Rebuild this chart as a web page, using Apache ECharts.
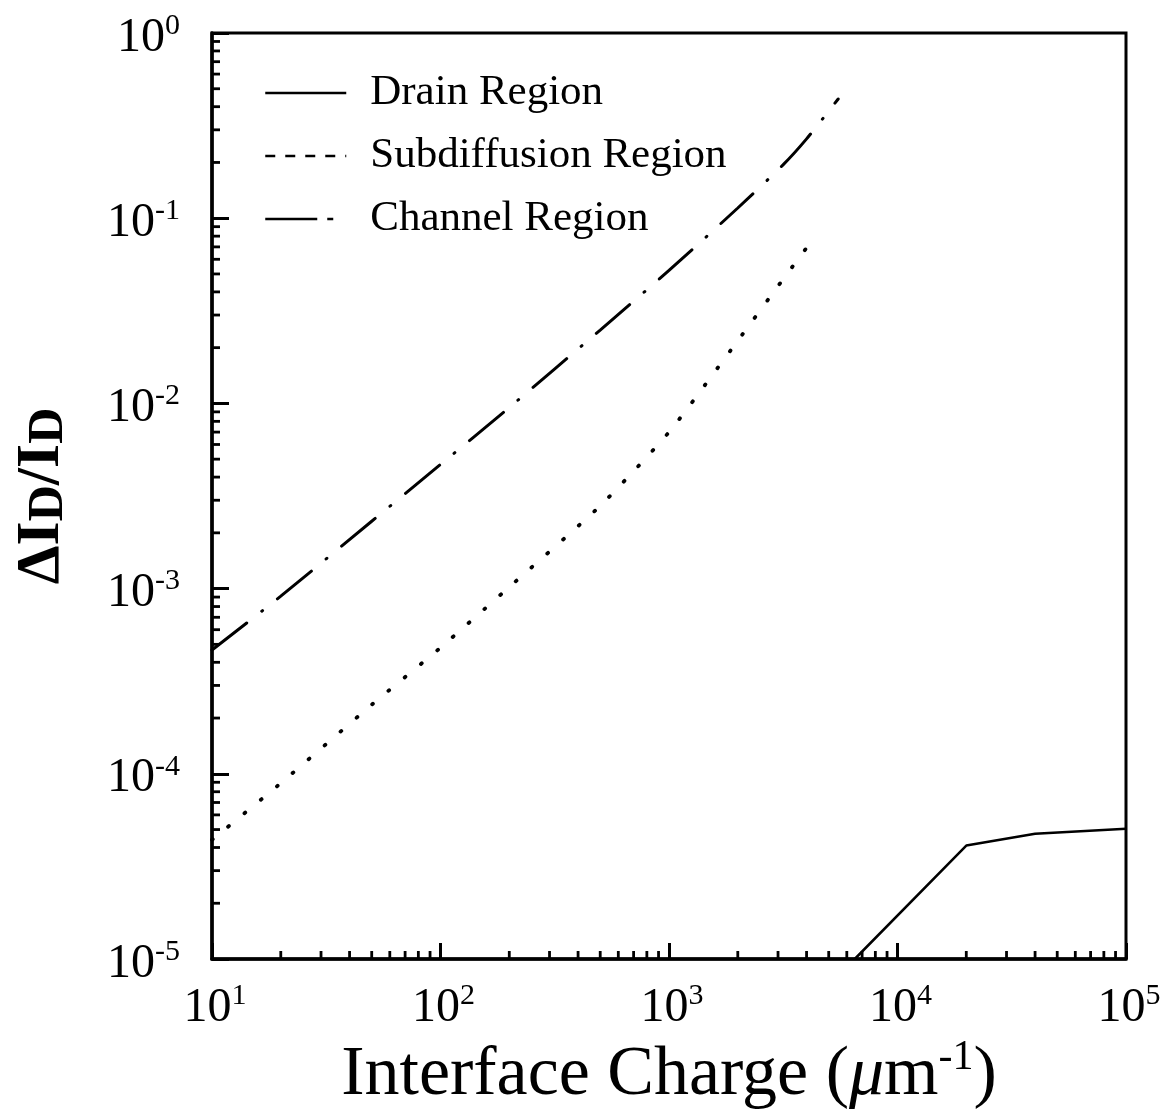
<!DOCTYPE html>
<html><head><meta charset="utf-8">
<script src="https://cdn.jsdelivr.net/npm/echarts/dist/echarts.min.js"></script>
<style>html,body{margin:0;padding:0;background:#fff}#c{width:1162px;height:1120px}</style>
</head><body><div id="c"></div>
<script>
// ---- data ----
const drainX = [6500, 20000, 40000, 100000];
const drainY = [1.0e-5, 4.1e-5, 4.75e-5, 5.05e-5];

const subX = [10, 20, 50, 100, 200, 500, 1000, 2000, 3000, 4400];
const subY = [4.4e-5, 8.9e-5, 2.36e-4, 4.8e-4, 1.02e-3, 2.8e-3, 7.0e-3, 0.0218, 0.043, 0.081];

const chX = [10, 20, 50, 100, 200, 500, 1000, 2000, 3155, 4000, 5500];
const chY = [4.66e-4, 9.1e-4, 2.31e-3, 4.68e-3, 9.5e-3, 0.0249, 0.0522, 0.1135, 0.194, 0.268, 0.44];

const seriesNames = ['Drain Region', 'Subdiffusion Region', 'Channel Region'];

// minor tick values
const xMinorTicks = [20,30,40,50,60,70,80,90, 200,300,400,500,600,700,800,900,
  2000,3000,4000,5000,6000,7000,8000,9000, 20000,30000,40000,50000,60000,70000,80000,90000];
const yMinorTicks = [2e-5,3e-5,4e-5,5e-5,6e-5,7e-5,8e-5,9e-5, 2e-4,3e-4,4e-4,5e-4,6e-4,7e-4,8e-4,9e-4,
  2e-3,3e-3,4e-3,5e-3,6e-3,7e-3,8e-3,9e-3, 2e-2,3e-2,4e-2,5e-2,6e-2,7e-2,8e-2,9e-2,
  0.2,0.3,0.4,0.5,0.6,0.7,0.8,0.9];

const X_MIN = 10, X_MAX = 1e5, Y_MIN = 1e-5, Y_MAX = 1;

const F = '"Liberation Serif", "Times New Roman", serif';
const zip = (xs, ys) => xs.map((x, i) => [x, ys[i]]);
const powLabel = v => '{b|10}{s|' + Math.round(Math.log10(v)) + '}';
const hidden = { opacity: 0 };

const chart = echarts.init(document.getElementById('c'));
chart.setOption({
  animation: false,
  backgroundColor: '#fff',
  color: ['#000', '#000', '#000'],
  grid: { left: 212, top: 33, right: 36, bottom: 161, containLabel: false, outerBoundsMode: 'none',
          show: true, borderColor: '#000', borderWidth: 3, backgroundColor: 'transparent' },
  legend: {
    orient: 'vertical', left: 259, top: 66, itemWidth: 81, itemHeight: 14, itemGap: 19,
    selectedMode: false,
    itemStyle: hidden,
    textStyle: { fontFamily: F, fontSize: 43, color: '#000', lineHeight: 44, padding: [0, 0, 0, 19] },
    data: [
      { name: seriesNames[0], itemStyle: hidden, lineStyle: { type: 'solid', width: 2.5, color: '#000' } },
      { name: seriesNames[1], itemStyle: hidden, lineStyle: { type: [10, 10], width: 2.5, color: '#000', cap: 'butt' } },
      { name: seriesNames[2], itemStyle: hidden, lineStyle: { type: [52, 10, 6, 200], width: 2.5, color: '#000', cap: 'butt' } }
    ]
  },
  xAxis: {
    type: 'log', logBase: 10, min: X_MIN, max: X_MAX,
    axisLine: { lineStyle: { color: '#000', width: 3.5 } },
    axisTick: { inside: true, length: 16, lineStyle: { color: '#000', width: 3 } },
    splitLine: { show: false },
    axisLabel: {
      margin: 22, color: '#000', formatter: powLabel, padding: [0, 0, 0, 6],
      rich: {
        b: { fontFamily: F, fontSize: 48, lineHeight: 54, color: '#000' },
        s: { fontFamily: F, fontSize: 30, lineHeight: 28, verticalAlign: 'top', color: '#000' }
      }
    },
    name: '{t|Interface Charge (}{m|μ}{t|m}{p|-1}{t|)}',
    nameLocation: 'middle', nameGap: 70,
    nameTextStyle: {
      rich: {
        t: { fontFamily: F, fontSize: 70, lineHeight: 78, color: '#000' },
        m: { fontFamily: F, fontSize: 70, lineHeight: 78, fontStyle: 'italic', color: '#000' },
        p: { fontFamily: F, fontSize: 42, lineHeight: 46, verticalAlign: 'top', color: '#000' }
      }
    }
  },
  yAxis: {
    type: 'log', logBase: 10, min: Y_MIN, max: Y_MAX,
    axisLine: { lineStyle: { color: '#000', width: 3.5 } },
    axisTick: { inside: true, length: 17, lineStyle: { color: '#000', width: 3 } },
    splitLine: { show: false },
    axisLabel: {
      margin: 32, color: '#000', formatter: powLabel, padding: [10, 0, 0, 0],
      rich: {
        b: { fontFamily: F, fontSize: 48, lineHeight: 54, color: '#000' },
        s: { fontFamily: F, fontSize: 30, lineHeight: 28, verticalAlign: 'top', color: '#000' }
      }
    },
    name: '{a|ΔI}{s|D}{a|/I}{s|D}',
    nameLocation: 'middle', nameGap: 138, nameRotate: 90,
    nameTextStyle: {
      padding: [0, 0, 0, 0],
      rich: {
        a: { fontFamily: F, fontSize: 62, fontWeight: 'bold', lineHeight: 64, color: '#000' },
        s: { fontFamily: F, fontSize: 50, fontWeight: 'bold', lineHeight: 48, verticalAlign: 'bottom', color: '#000' }
      }
    }
  },
  series: [
    { name: seriesNames[0], type: 'line', data: zip(drainX, drainY), symbol: 'none', clip: true,
      lineStyle: { color: '#000', width: 2.5, type: 'solid' } },
    { name: seriesNames[1], type: 'line', data: zip(subX, subY), symbol: 'none', smooth: 0.2, clip: true,
      lineStyle: { color: '#000', width: 3.8, type: [1, 20], cap: 'round' } },
    { name: seriesNames[2], type: 'line', data: zip(chX, chY), symbol: 'none', smooth: 0.2, clip: true,
      lineStyle: { color: '#000', width: 3, type: [44, 19, 1, 19], cap: 'round' } },
    { type: 'custom', silent: true, clip: false, z: 5,
      data: xMinorTicks.map(v => [v, Y_MIN]),
      renderItem: (params, api) => {
        const p = api.coord([api.value(0), api.value(1)]);
        return { type: 'line', shape: { x1: p[0], y1: p[1], x2: p[0], y2: p[1] - 8 },
                 style: { stroke: '#000', lineWidth: 2.8 } };
      } },
    { type: 'custom', silent: true, clip: false, z: 5,
      data: yMinorTicks.map(v => [X_MIN, v]),
      renderItem: (params, api) => {
        const p = api.coord([api.value(0), api.value(1)]);
        return { type: 'line', shape: { x1: p[0], y1: p[1], x2: p[0] + 8, y2: p[1] },
                 style: { stroke: '#000', lineWidth: 2.8 } };
      } }
  ]
});
</script>
</body></html>
